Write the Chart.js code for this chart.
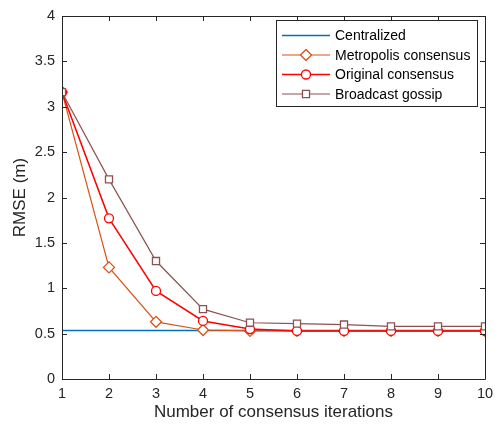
<!DOCTYPE html>
<html>
<head>
<meta charset="utf-8">
<script src="https://cdn.jsdelivr.net/npm/chart.js@4.4.1/dist/chart.umd.min.js"></script>
<style>
html,body{margin:0;padding:0;background:#fff;}
#wrap{width:495px;height:427px;position:relative;}
</style>
</head>
<body>
<div id="wrap"><canvas id="c" width="495" height="427"></canvas></div>
<script>
const iterations = [1,2,3,4,5,6,7,8,9,10];
const centralized = [0.535,0.535,0.535,0.535,0.535,0.535,0.535,0.535,0.535,0.535];
const metropolis = [3.16,1.23,0.63,0.54,0.53,0.53,0.53,0.53,0.53,0.53];
const original = [3.16,1.77,0.97,0.64,0.55,0.53,0.53,0.53,0.53,0.53];
const broadcast = [3.16,2.20,1.30,0.77,0.62,0.61,0.60,0.58,0.58,0.58];
const yTicks = [0,0.5,1,1.5,2,2.5,3,3.5,4];
const seriesNames = ['Centralized','Metropolis consensus','Original consensus','Broadcast gossip'];

const FONT = 'Liberation Sans, Arial, sans-serif';
const AXIS = '#262626';
const colors = ['#0072BD','#D95319','#FF0000','#8C5252'];
const styles = [false,'rectRot','circle','rect'];
const radii = [0,5.5,4.5,5];
const widths = [1.5,1.2,1.5,1.2];
const orders = [4,3,2,1];

function mkData(arr){ return arr.map((v,i)=>({x:iterations[i], y:v})); }
const allSeries = [centralized, metropolis, original, broadcast];

const datasets = allSeries.map((arr,k)=>({
  label: seriesNames[k],
  data: mkData(arr),
  order: orders[k],
  borderColor: colors[k],
  backgroundColor: '#ffffff',
  borderWidth: widths[k],
  pointStyle: styles[k],
  pointRadius: radii[k],
  pointBorderWidth: 1.3,
  pointBackgroundColor: '#ffffff',
  pointBorderColor: colors[k],
  tension: 0,
  fill: false
}));

const boxPlugin = {
  id: 'box',
  afterDraw(chart){
    const ctx = chart.ctx, a = chart.chartArea;
    const xs = chart.scales.x, ys = chart.scales.y;
    ctx.save();
    ctx.strokeStyle = AXIS;
    ctx.lineWidth = 1;
    ctx.beginPath();
    ctx.rect(Math.round(a.left)+0.5, Math.round(a.top)+0.5, Math.round(a.right-a.left), Math.round(a.bottom-a.top));
    ctx.stroke();
    const tl = 5;
    ctx.beginPath();
    iterations.forEach(v=>{
      const px = Math.round(xs.getPixelForValue(v))+0.5;
      ctx.moveTo(px, a.bottom); ctx.lineTo(px, a.bottom - tl);
      ctx.moveTo(px, a.top); ctx.lineTo(px, a.top + tl);
    });
    yTicks.forEach(v=>{
      const py = Math.round(ys.getPixelForValue(v))+0.5;
      ctx.moveTo(a.left, py); ctx.lineTo(a.left + tl, py);
      ctx.moveTo(a.right, py); ctx.lineTo(a.right - tl, py);
    });
    ctx.stroke();

    // legend
    const lx = 276.5, ly = 20.5, lw = 201, lh = 86;
    ctx.fillStyle = '#fff';
    ctx.fillRect(lx, ly, lw, lh);
    ctx.strokeStyle = AXIS;
    ctx.lineWidth = 1;
    ctx.strokeRect(lx, ly, lw, lh);
    const rows = [35.5, 55, 74.5, 94];
    ctx.font = '14px ' + FONT;
    ctx.textBaseline = 'middle';
    ctx.textAlign = 'left';
    seriesNames.forEach((name,k)=>{
      const y = rows[k];
      ctx.strokeStyle = colors[k];
      ctx.lineWidth = widths[k];
      ctx.beginPath(); ctx.moveTo(282, y); ctx.lineTo(330, y); ctx.stroke();
      if (styles[k]) {
        ctx.lineWidth = 1.3;
        ctx.fillStyle = '#fff';
        Chart.helpers.drawPoint(ctx, {pointStyle: styles[k], radius: radii[k], borderWidth: 1.3, rotation: 0}, 306, y);
      }
      ctx.fillStyle = '#000';
      ctx.fillText(name, 335, y + 1);
    });
    ctx.restore();
  }
};

const tickFmt = v => String(v);

new Chart(document.getElementById('c'), {
  type: 'line',
  data: { datasets },
  options: {
    responsive: false,
    animation: false,
    devicePixelRatio: 1,
    layout: { padding: { top: 16, right: 10, bottom: 0, left: 0 } },
    plugins: { legend: { display: false }, tooltip: { enabled: false } },
    scales: {
      x: {
        type: 'linear', min: 1, max: 10,
        afterFit(s){ s.height = 48; s.paddingLeft = 0; s.paddingRight = 0; },
        afterBuildTicks(s){ s.ticks = iterations.map(v=>({value:v})); },
        grid: { display: false, drawTicks: false },
        border: { display: false },
        ticks: { color: AXIS, font: { family: FONT, size: 14.5 }, padding: 6, maxRotation: 0, autoSkip: false, callback: tickFmt },
        title: { display: true, text: 'Number of consensus iterations', color: AXIS, font: { family: FONT, size: 17 }, padding: { top: 0, bottom: 4 } }
      },
      y: {
        type: 'linear', min: 0, max: 4,
        afterFit(s){ s.width = 62; s.paddingTop = 0; s.paddingBottom = 0; },
        afterBuildTicks(s){ s.ticks = yTicks.map(v=>({value:v})); },
        grid: { display: false, drawTicks: false },
        border: { display: false },
        ticks: { color: AXIS, font: { family: FONT, size: 14.5 }, padding: 7, autoSkip: false, callback: tickFmt },
        title: { display: true, text: 'RMSE (m)', color: AXIS, font: { family: FONT, size: 17 }, padding: { top: 10, bottom: 0 } }
      }
    }
  },
  plugins: [boxPlugin]
});
</script>
</body>
</html>
